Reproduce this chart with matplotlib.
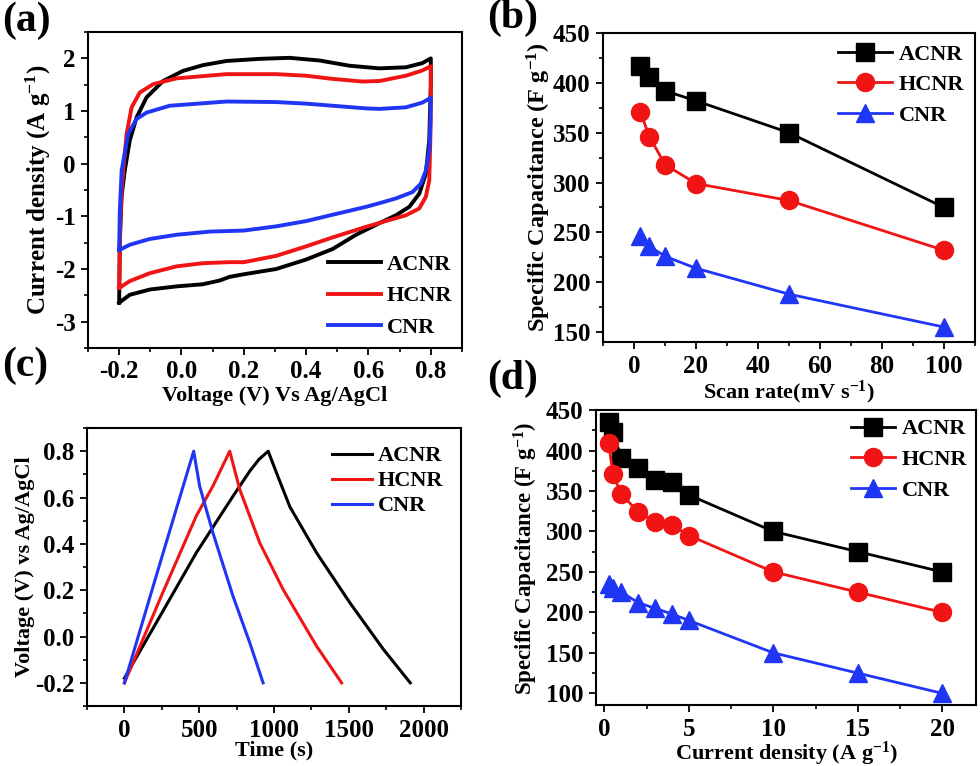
import numpy as np
import matplotlib
matplotlib.use('Agg')
import matplotlib.pyplot as plt
from matplotlib.ticker import MultipleLocator

plt.rcParams['font.family'] = 'Liberation Serif'
plt.rcParams['font.weight'] = 'bold'
plt.rcParams['axes.labelweight'] = 'bold'
plt.rcParams['mathtext.fontset'] = 'custom'
plt.rcParams['mathtext.rm'] = 'Liberation Serif:bold'
plt.rcParams['mathtext.bf'] = 'Liberation Serif:bold'
plt.rcParams['mathtext.it'] = 'Liberation Serif:bold'

names = ['ACNR', 'HCNR', 'CNR']
colors = ['black', '#f01414', '#2036f5']

# (a) CV curves (loop: anodic then cathodic branch)
cv_acnr_v = [-0.2, -0.198, -0.192, -0.182, -0.166, -0.144, -0.112, -0.059, 0.004, 0.068, 0.144,
             0.25, 0.346, 0.442, 0.539, 0.635, 0.72, 0.773, 0.8,
             0.8, 0.797, 0.795, 0.784, 0.763, 0.731, 0.688, 0.635, 0.56, 0.485, 0.4,
             0.304, 0.2, 0.154, 0.122, 0.068, -0.016, -0.102, -0.166, -0.2]
cv_acnr_i = [-2.64, -1.5, -0.6, -0.13, 0.44, 0.88, 1.26, 1.57, 1.76, 1.87, 1.95,
             1.99, 2.01, 1.96, 1.86, 1.81, 1.83, 1.91, 2.0,
             1.5, 0.9, 0.44, -0.19, -0.57, -0.82, -0.98, -1.13, -1.35, -1.62, -1.82,
             -2.0, -2.10, -2.15, -2.22, -2.29, -2.33, -2.39, -2.49, -2.64]
cv_hcnr_v = [-0.2, -0.197, -0.192, -0.187, -0.176, -0.160, -0.134, -0.091, -0.016, 0.144,
             0.304, 0.4, 0.485, 0.58, 0.635, 0.72, 0.773, 0.8,
             0.8, 0.799, 0.797, 0.795, 0.784, 0.763, 0.72, 0.667, 0.592, 0.485, 0.4,
             0.304, 0.2, 0.154, 0.068, -0.016, -0.102, -0.166, -0.2]
cv_hcnr_i = [-2.36, -1.2, -0.5, -0.13, 0.57, 1.07, 1.35, 1.51, 1.62, 1.70,
             1.70, 1.67, 1.61, 1.56, 1.57, 1.67, 1.77, 1.85,
             1.2, 0.6, 0.125, -0.32, -0.63, -0.85, -0.98, -1.07, -1.2, -1.40, -1.57,
             -1.75, -1.87, -1.87, -1.89, -1.95, -2.08, -2.23, -2.36]
cv_cnr_v = [-0.2, -0.198, -0.192, -0.171, -0.144, -0.112, -0.038, 0.144, 0.304, 0.4, 0.485,
            0.592, 0.635, 0.72, 0.773, 0.8,
            0.799, 0.795, 0.784, 0.768, 0.741, 0.688, 0.635, 0.592, 0.485, 0.4,
            0.304, 0.2, 0.09, -0.016, -0.102, -0.166, -0.2]
cv_cnr_i = [-1.64, -0.9, -0.13, 0.57, 0.85, 0.97, 1.10, 1.18, 1.17, 1.14, 1.10,
            1.05, 1.04, 1.07, 1.16, 1.25,
            0.8, 0.25, -0.13, -0.38, -0.54, -0.66, -0.75, -0.82, -0.97, -1.09,
            -1.19, -1.27, -1.29, -1.35, -1.43, -1.54, -1.64]

# (b) specific capacitance vs scan rate
scan_rate = [2, 5, 10, 20, 50, 100]
cap_b_acnr = [417, 406, 392, 382, 350, 275]
cap_b_hcnr = [371, 346, 318, 299, 282, 232]
cap_b_cnr = [246, 236, 226, 214, 188, 155]

# (c) charge/discharge curves
gcd_acnr_t = [0, 240, 480, 726, 838, 900, 961, 1017, 1106, 1285, 1508, 1732, 1911]
gcd_acnr_v = [-0.18, 0.09, 0.361, 0.606, 0.714, 0.765, 0.8, 0.706, 0.56, 0.361, 0.145, -0.056, -0.2]
gcd_hcnr_t = [0, 250, 480, 592, 704, 771, 905, 1061, 1285, 1452]
gcd_hcnr_v = [-0.2, 0.18, 0.52, 0.65, 0.8, 0.635, 0.404, 0.203, -0.042, -0.2]
gcd_cnr_t = [0, 235, 463, 503, 592, 726, 838, 927]
gcd_cnr_v = [-0.2, 0.31, 0.8, 0.649, 0.447, 0.174, -0.027, -0.2]

# (d) specific capacitance vs current density
cur_density = [0.25, 0.5, 1, 2, 3, 4, 5, 10, 15, 20]
cap_d_acnr = [435, 423, 391, 378, 363, 361, 345, 300, 275, 250]
cap_d_hcnr = [409, 371, 346, 324, 312, 308, 295, 250, 225, 200]
cap_d_cnr = [235, 230, 225, 212, 205, 198, 190, 150, 125, 100]

fig = plt.figure(figsize=(9.8, 7.66), dpi=100)
ax_a = fig.add_axes([0.0898, 0.5457, 0.3816, 0.4125])
ax_b = fig.add_axes([0.6153, 0.5535, 0.3796, 0.4034])
ax_c = fig.add_axes([0.0888, 0.0783, 0.3816, 0.3629])
ax_d = fig.add_axes([0.6082, 0.0790, 0.3878, 0.3857])

tick_fs = 18
label_fs = 16
leg_fs = 16


def style(ax):
    for s in ax.spines.values():
        s.set_linewidth(1.5)
    ax.tick_params(which='major', direction='out', length=5, width=1.3, pad=4,
                   labelsize=tick_fs, top=False, right=False)
    ax.tick_params(which='minor', direction='out', length=3, width=1.2,
                   top=False, right=False)


# panel (a)
for v, i, c, n in zip([cv_acnr_v, cv_hcnr_v, cv_cnr_v], [cv_acnr_i, cv_hcnr_i, cv_cnr_i], colors, names):
    ax_a.plot(v, i, color=c, lw=2.8, label=n, solid_joinstyle='round')
ax_a.set_xlim(-0.3, 0.9)
ax_a.set_ylim(-3.5, 2.5)
ax_a.set_xticks([-0.2, 0.0, 0.2, 0.4, 0.6, 0.8])
ax_a.set_xticklabels(['-0.2', '0.0', '0.2', '0.4', '0.6', '0.8'])
ax_a.xaxis.set_minor_locator(MultipleLocator(0.1))
ax_a.set_yticks([-3, -2, -1, 0, 1, 2])
ax_a.set_yticklabels(['-3', '-2', '-1', '0', '1', '2'])
ax_a.yaxis.set_minor_locator(MultipleLocator(0.5))
style(ax_a)
ax_a.set_xlabel('Voltage (V) Vs Ag/AgCl', fontsize=label_fs, labelpad=2)
ax_a.set_ylabel(r'Current density (A g$^{-1}$)', fontsize=18, labelpad=1)
ax_a.legend(loc='lower right', frameon=False, fontsize=leg_fs, handlelength=2.4,
            handletextpad=0.25, labelspacing=0.5, borderaxespad=0.05)

# panel (b)
markers = ['s', 'o', '^']
for y, c, m, n in zip([cap_b_acnr, cap_b_hcnr, cap_b_cnr], colors, markers, names):
    ax_b.plot(scan_rate, y, color=c, lw=2, marker=m, ms=13, label=n)
ax_b.set_xlim(-10, 110)
ax_b.set_ylim(140, 450)
ax_b.xaxis.set_major_locator(MultipleLocator(20))
ax_b.xaxis.set_minor_locator(MultipleLocator(10))
ax_b.yaxis.set_major_locator(MultipleLocator(50))
ax_b.yaxis.set_minor_locator(MultipleLocator(25))
style(ax_b)
ax_b.set_xlabel(r'Scan rate(mV s$^{-1}$)', fontsize=label_fs, labelpad=1)
ax_b.set_ylabel(r'Specific Capacitance (F g$^{-1}$)', fontsize=17.5, labelpad=0)
ax_b.legend(loc='upper right', frameon=False, fontsize=leg_fs, handlelength=2.4,
            handletextpad=0.3, labelspacing=0.45, borderaxespad=0.1)

# panel (c)
for t, v, c, n in zip([gcd_acnr_t, gcd_hcnr_t, gcd_cnr_t], [gcd_acnr_v, gcd_hcnr_v, gcd_cnr_v], colors, names):
    ax_c.plot(t, v, color=c, lw=2.2, label=n)
ax_c.set_xlim(-250, 2250)
ax_c.set_ylim(-0.3, 0.9)
ax_c.xaxis.set_major_locator(MultipleLocator(500))
ax_c.xaxis.set_minor_locator(MultipleLocator(250))
ax_c.set_yticks([-0.2, 0.0, 0.2, 0.4, 0.6, 0.8])
ax_c.set_yticklabels(['-0.2', '0.0', '0.2', '0.4', '0.6', '0.8'])
ax_c.yaxis.set_minor_locator(MultipleLocator(0.1))
style(ax_c)
ax_c.set_xlabel('Time (s)', fontsize=label_fs, labelpad=-1)
ax_c.set_ylabel('Voltage (V) vs Ag/AgCl', fontsize=label_fs, labelpad=0)
ax_c.legend(loc='upper right', frameon=False, fontsize=leg_fs, handlelength=1.8,
            handletextpad=0.25, labelspacing=0.2, borderaxespad=0.4)

# panel (d)
for y, c, m, n in zip([cap_d_acnr, cap_d_hcnr, cap_d_cnr], colors, markers, names):
    ax_d.plot(cur_density, y, color=c, lw=2, marker=m, ms=13, label=n)
ax_d.set_xlim(-0.5, 22)
ax_d.set_ylim(85, 450)
ax_d.xaxis.set_major_locator(MultipleLocator(5))
ax_d.xaxis.set_minor_locator(MultipleLocator(2.5))
ax_d.yaxis.set_major_locator(MultipleLocator(50))
ax_d.yaxis.set_minor_locator(MultipleLocator(25))
style(ax_d)
ax_d.set_xlabel(r'Current density (A g$^{-1}$)', fontsize=label_fs, labelpad=-1)
ax_d.set_ylabel(r'Specific Capacitance (F g$^{-1}$)', fontsize=16.5, labelpad=4)
ax_d.legend(loc='upper right', frameon=False, fontsize=leg_fs, handlelength=2.0,
            handletextpad=0.3, labelspacing=0.45, borderaxespad=0.0)

# panel letters
fig.text(0.002, 0.998, '(a)', fontsize=30, fontweight='bold', va='top', ha='left')
fig.text(0.497, 1.002, '(b)', fontsize=30, fontweight='bold', va='top', ha='left')
fig.text(0.002, 0.547, '(c)', fontsize=30, fontweight='bold', va='top', ha='left')
fig.text(0.497, 0.530, '(d)', fontsize=30, fontweight='bold', va='top', ha='left')

fig.savefig('out.png', dpi=100)
